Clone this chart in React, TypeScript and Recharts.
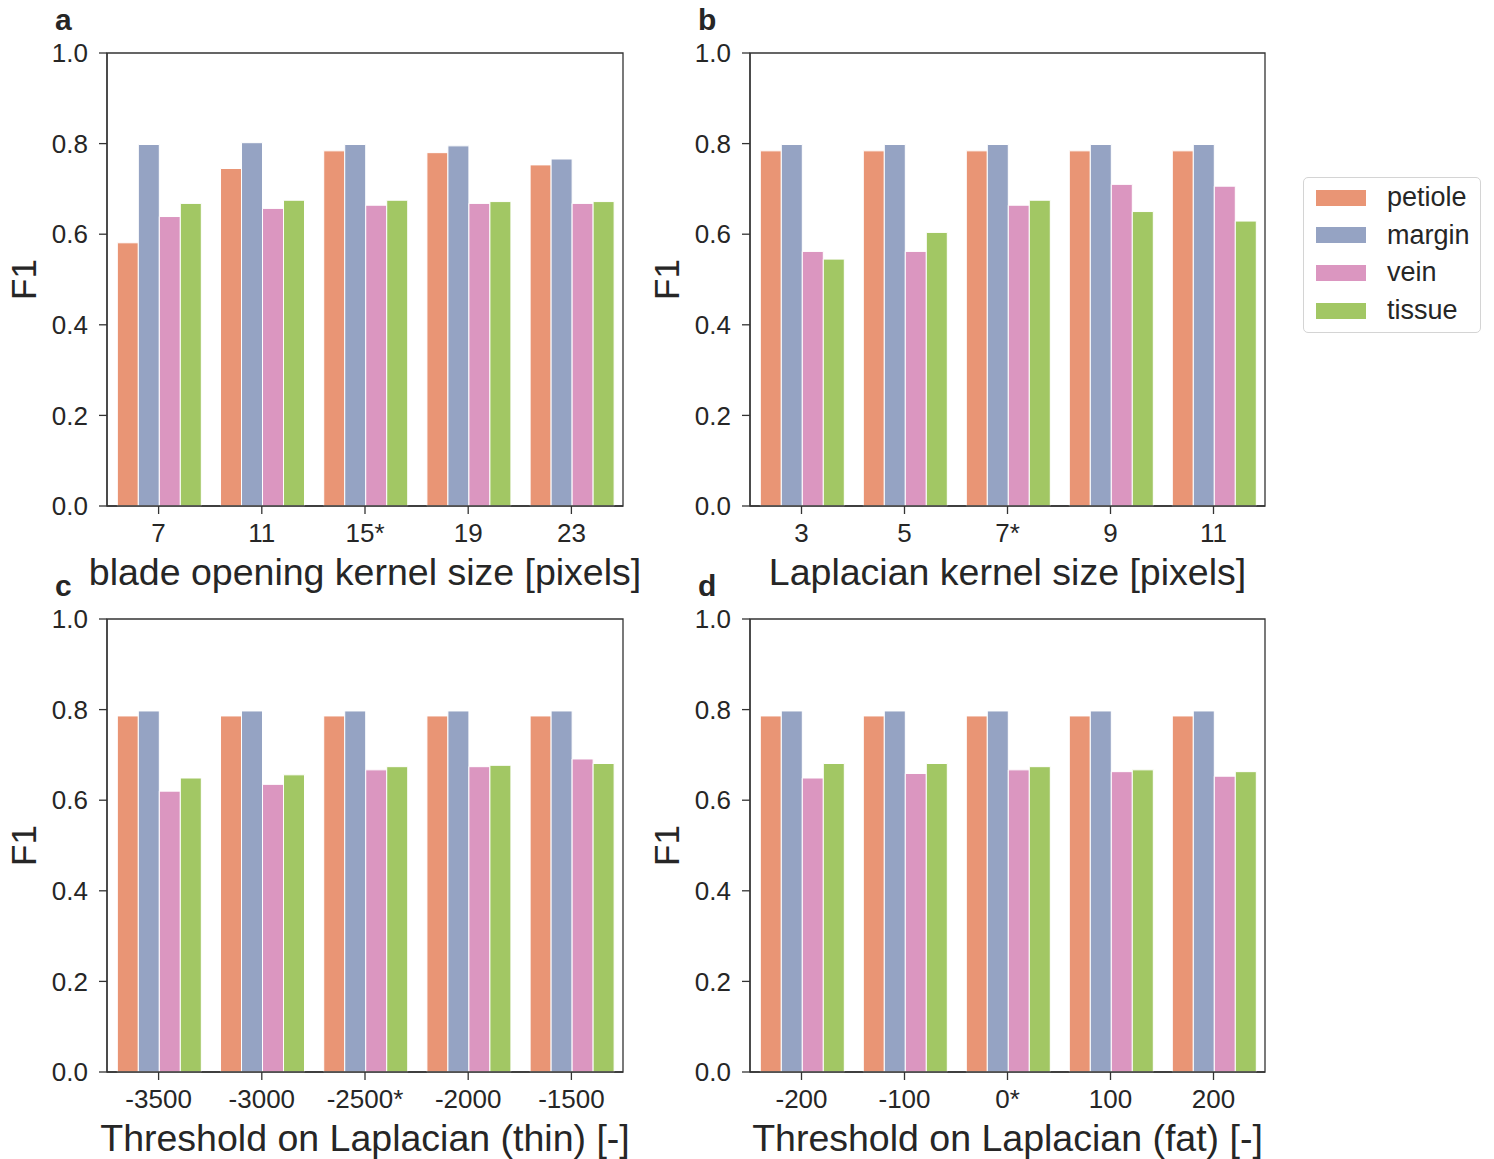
import React from 'react';
import { BarChart, Bar, XAxis, YAxis, ReferenceArea, Legend, Label } from 'recharts';

const SERIES = ['petiole', 'margin', 'vein', 'tissue'];
const COLORS = ['#e99575', '#95a3c3', '#db96c0', '#a2c764'];
const Y_TICKS = [0, 0.2, 0.4, 0.6, 0.8, 1.0];

// Panel a
const catsA = ['7', '11', '15*', '19', '23'];
const petioleA = [0.581, 0.745, 0.784, 0.78, 0.753];
const marginA = [0.798, 0.802, 0.798, 0.795, 0.766];
const veinA = [0.639, 0.657, 0.664, 0.668, 0.668];
const tissueA = [0.668, 0.675, 0.675, 0.672, 0.672];

// Panel b
const catsB = ['3', '5', '7*', '9', '11'];
const petioleB = [0.784, 0.784, 0.784, 0.784, 0.784];
const marginB = [0.798, 0.798, 0.798, 0.798, 0.798];
const veinB = [0.562, 0.562, 0.664, 0.71, 0.706];
const tissueB = [0.545, 0.604, 0.675, 0.65, 0.629];

// Panel c
const catsC = ['-3500', '-3000', '-2500*', '-2000', '-1500'];
const petioleC = [0.786, 0.786, 0.786, 0.786, 0.786];
const marginC = [0.797, 0.797, 0.797, 0.797, 0.797];
const veinC = [0.62, 0.635, 0.667, 0.674, 0.691];
const tissueC = [0.649, 0.656, 0.674, 0.677, 0.681];

// Panel d
const catsD = ['-200', '-100', '0*', '100', '200'];
const petioleD = [0.786, 0.786, 0.786, 0.786, 0.786];
const marginD = [0.797, 0.797, 0.797, 0.797, 0.797];
const veinD = [0.649, 0.659, 0.667, 0.663, 0.653];
const tissueD = [0.681, 0.681, 0.674, 0.667, 0.663];

const FONT = '"Liberation Sans", Arial, Helvetica, sans-serif';
const TEXT = '#262626';
const AXIS = '#333333';

const PLOT_TOP = 53;
const PLOT_H = 453;
const PLOT_LEFT = 107;
const CHART_H = 593;
const Y_AXIS_W = 60;
const X_AXIS_H = 30;

function build(cats: string[], p: number[], m: number[], v: number[], t: number[]) {
  return cats.map((c, i) => ({ cat: c, petiole: p[i], margin: m[i], vein: v[i], tissue: t[i] }));
}

function LegendBox() {
  return (
    <div
      style={{
        width: 178,
        height: 156,
        boxSizing: 'border-box',
        border: '1px solid #d4d4d4',
        borderRadius: 5,
        background: '#fff',
        paddingTop: 1,
        fontFamily: FONT,
        fontSize: 27,
        color: TEXT,
      }}
    >
      {SERIES.map((s, i) => (
        <div key={s} style={{ display: 'flex', alignItems: 'center', height: 37.6 }}>
          <span
            style={{
              display: 'inline-block',
              width: 50,
              height: 16,
              background: COLORS[i],
              marginLeft: 12,
              marginRight: 21,
            }}
          />
          <span>{s}</span>
        </div>
      ))}
    </div>
  );
}

type PanelProps = {
  letter: string;
  data: any[];
  xLabel: string;
  left: number;
  top: number;
  width: number;
  plotW: number;
  legend?: boolean;
};

function Panel({ letter, data, xLabel, left, top, width, plotW, legend }: PanelProps) {
  const rightMargin = width - PLOT_LEFT - plotW;
  const bottomMargin = CHART_H - PLOT_TOP - PLOT_H - X_AXIS_H;
  const xLabelContent = () => (
    <text
      x={PLOT_LEFT + plotW / 2}
      y={PLOT_TOP + PLOT_H + 79}
      textAnchor="middle"
      fontSize={37.5}
      fontFamily={FONT}
      fill={TEXT}
    >
      {xLabel}
    </text>
  );
  const yLabelContent = () => (
    <g>
      <text
        x={36}
        y={PLOT_TOP + PLOT_H / 2}
        transform={`rotate(-90, 36, ${PLOT_TOP + PLOT_H / 2})`}
        textAnchor="middle"
        fontSize={35}
        fontFamily={FONT}
        fill={TEXT}
      >
        F1
      </text>
      <text x={55} y={30} fontSize={30} fontWeight="bold" fontFamily={FONT} fill={TEXT}>
        {letter}
      </text>
    </g>
  );
  return (
    <div style={{ position: 'absolute', left, top }}>
      <BarChart
        width={width}
        height={CHART_H}
        data={data}
        margin={{ top: PLOT_TOP, left: PLOT_LEFT - Y_AXIS_W, right: rightMargin, bottom: bottomMargin }}
        barCategoryGap="10%"
        barGap={0}
      >
        <XAxis
          dataKey="cat"
          height={X_AXIS_H}
          interval={0}
          tickSize={8}
          tickMargin={10}
          tick={{ fontSize: 26, fill: TEXT, fontFamily: FONT }}
          axisLine={{ stroke: AXIS, strokeWidth: 1.3 }}
          tickLine={{ stroke: AXIS, strokeWidth: 1.3 }}
          label={<Label content={xLabelContent} />}
        />
        <YAxis
          width={Y_AXIS_W}
          domain={[0, 1]}
          ticks={Y_TICKS}
          tickFormatter={(v: number) => v.toFixed(1)}
          tickSize={8}
          tickMargin={11}
          tick={{ fontSize: 26, fill: TEXT, fontFamily: FONT }}
          axisLine={{ stroke: AXIS, strokeWidth: 1.3 }}
          tickLine={{ stroke: AXIS, strokeWidth: 1.3 }}
          label={<Label content={yLabelContent} />}
        />
        {SERIES.map((s, i) => (
          <Bar
            key={s}
            dataKey={s}
            name={s}
            fill={COLORS[i]}
            stroke="#ffffff"
            strokeWidth={1}
            isAnimationActive={false}
          />
        ))}
        <ReferenceArea y1={0} y2={1} fill="none" stroke={AXIS} strokeWidth={1.3} fillOpacity={0} ifOverflow="visible" />
        {legend ? (
          <Legend
            layout="vertical"
            align="center"
            verticalAlign="middle"
            wrapperStyle={{ left: 660, top: 177, width: 178 }}
            content={() => <LegendBox />}
          />
        ) : null}
      </BarChart>
    </div>
  );
}

export default function App() {
  const dataA = build(catsA, petioleA, marginA, veinA, tissueA);
  const dataB = build(catsB, petioleB, marginB, veinB, tissueB);
  const dataC = build(catsC, petioleC, marginC, veinC, tissueC);
  const dataD = build(catsD, petioleD, marginD, veinD, tissueD);
  return (
    <div
      style={{
        position: 'absolute',
        left: 0,
        top: 0,
        width: 1494,
        height: 1159,
        background: '#fff',
        overflow: 'hidden',
        fontFamily: FONT,
      }}
    >
      <Panel letter="a" data={dataA} xLabel="blade opening kernel size [pixels]" left={0} top={0} width={643} plotW={516} />
      <Panel letter="b" data={dataB} xLabel="Laplacian kernel size [pixels]" left={643} top={0} width={851} plotW={515} legend />
      <Panel letter="c" data={dataC} xLabel="Threshold on Laplacian (thin) [-]" left={0} top={566} width={643} plotW={516} />
      <Panel letter="d" data={dataD} xLabel="Threshold on Laplacian (fat) [-]" left={643} top={566} width={851} plotW={515} />
    </div>
  );
}
